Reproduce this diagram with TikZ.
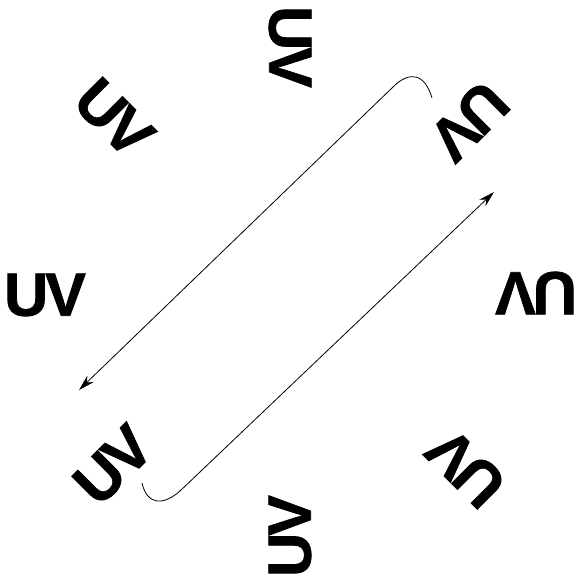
\documentclass[tikz,border=0pt]{standalone}
\usepackage{fontspec}
\newfontfamily\uvfont{Liberation Sans Bold}[FakeBold=1.2]
\usetikzlibrary{arrows.meta}
\tikzset{
  uvlabel/.style={inner sep=0pt, font=\uvfont\fontsize{61}{61}\selectfont},
  conn/.style={line width=0.8pt, -{Stealth[length=16pt,width=9pt]}}
}
\newcommand{\uvtext}{U\kern-3pt V}
\begin{document}
\begin{tikzpicture}[x=1pt,y=-1pt]
\useasboundingbox (0,0) rectangle (578,578);
\node[uvlabel, rotate=0]    (w)  at (45,295)  {\uvtext};
\node[uvlabel, rotate=-90]  (n)  at (290,47)  {\uvtext};
\node[uvlabel, rotate=180]  (e)  at (536,293) {\uvtext};
\node[uvlabel, rotate=90]   (s)  at (290,536) {\uvtext};
\node[uvlabel, rotate=-45]  (nw) at (114,118) {\uvtext};
\node[uvlabel, rotate=-135] (ne) at (469,121) {\uvtext};
\node[uvlabel, rotate=45]   (sw) at (113,465) {\uvtext};
\node[uvlabel, rotate=135]  (se) at (466,468) {\uvtext};
\coordinate (a1s) at (432,98);
\coordinate (a1e) at (79,390);
\coordinate (a2s) at (142,483);
\coordinate (a2e) at (494,192);
\draw[conn] (a1s) .. controls (425,74) and (410,70) .. (393,87) -- (a1e);
\draw[conn] (a2s) .. controls (147,505) and (163,506) .. (180,491) -- (a2e);
\end{tikzpicture}
\end{document}
